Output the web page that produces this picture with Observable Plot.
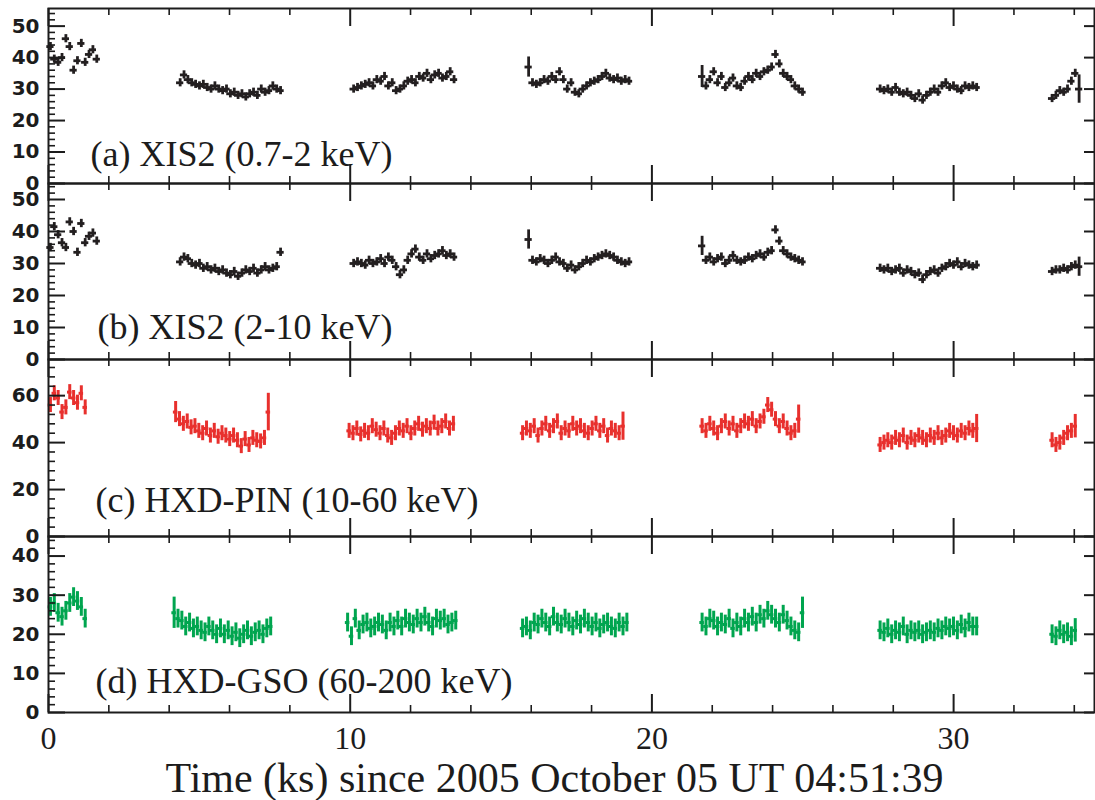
<!DOCTYPE html>
<html>
<head>
<meta charset="utf-8">
<script src="https://cdn.jsdelivr.net/npm/d3@7"></script>
<script src="https://cdn.jsdelivr.net/npm/@observablehq/plot@0.6"></script>
<style>
  html, body { margin: 0; padding: 0; background: #fff; }
  #chart { width: 1095px; }
  #chart svg { display: block; overflow: visible; background: transparent; }
</style>
</head>
<body>
<div id="chart"></div>
<script>
// Light curves binned at 128 s; each segment is one continuous stretch of data between orbital gaps.
const BIN = 0.128; // ks

// (a) XIS2 0.7-2 keV (counts/s)
const xisSoftStarts = [0.0, 4.3, 10.05, 15.85, 21.6, 27.5, 33.2];
const xisSoft = [
  [43.5, 39.5, 38.5, 40, 46, 43.5, 36, 39, 44.5, 38.5, 41, 42.5, 39.5],
  [32, 34.5, 33, 32, 31.5, 31, 31.5, 30.5, 30, 31, 30, 29.5, 30, 28.5, 29, 28, 28.5, 27.5, 28.5, 29, 28, 30, 29, 29.5, 31, 30, 29.5],
  [30, 30.5, 31, 31.5, 32, 31, 33, 32.5, 34, 31, 32, 29.5, 30, 31, 32.5, 33, 32, 34, 33.5, 35, 33, 34.5, 35, 33.5, 34, 35.5, 33],
  [37, 32, 31.5, 32, 33, 32.5, 34, 33, 35.5, 33, 30, 32, 29, 28.5, 30, 31, 32, 32.5, 33, 34, 35, 33.5, 33, 33.5, 32.5, 33, 32.5],
  [34, 31, 33, 35.5, 32, 34, 30.5, 32, 33.5, 31, 30.5, 32.5, 34, 33, 35, 34, 35.5, 36, 37, 41, 38, 35, 34, 33, 31, 30, 29],
  [30, 29.5, 30, 29, 30.5, 29, 28.5, 29, 28, 27, 28.5, 26.5, 28, 29, 30, 29, 31, 32, 30.5, 31, 30, 29.5, 31, 30.5, 31, 30.5],
  [27, 28, 29.5, 29, 30, 32.5, 35, 30]
];

// (b) XIS2 2-10 keV (counts/s)
const xisHardStarts = [0.0, 4.3, 10.05, 15.85, 21.6, 27.5, 33.2];
const xisHard = [
  [35, 41.5, 39, 36.5, 35, 43, 40, 33.5, 42.5, 36.5, 38.5, 39.5, 37],
  [30.5, 32, 31.5, 30, 29.5, 30, 28.5, 29, 28, 28.5, 27.5, 28, 27, 26.5, 27.5, 26, 27, 28, 27.5, 28.5, 27, 28, 29, 28, 28.5, 29, 33.5],
  [30, 30.5, 30, 29.5, 31, 30, 30.5, 31.5, 30, 32, 31, 29, 26.5, 28, 31, 33, 34.5, 32, 31, 33, 31.5, 32.5, 33, 34, 32.5, 33, 32],
  [37.5, 31, 30.5, 31.5, 31, 30, 31, 32, 30.5, 30, 28.5, 29.5, 28, 29, 30, 31, 30.5, 31.5, 32, 32.5, 33, 32.5, 32, 31, 30.5, 30, 30.5],
  [35.5, 31, 32, 30.5, 31.5, 32, 30, 31, 32.5, 31, 30.5, 31, 32, 31.5, 32.5, 33, 32, 33.5, 34, 40.5, 37, 34, 33, 32, 31.5, 31, 30.5],
  [28.5, 28, 28.5, 27.5, 28, 28.5, 27, 28, 27.5, 26.5, 27, 25, 26.5, 27.5, 28, 27, 28.5, 29, 30, 29.5, 30.5, 29, 30, 29.5, 29, 29.5],
  [27.5, 28, 28, 28.5, 28, 29, 29.5, 29]
];

// (c) HXD-PIN 10-60 keV (counts/s)
const pinStarts = [0.0, 4.15, 9.9, 15.65, 21.6, 27.5, 33.2];
const pin = [
  [56, 61, 59, 53, 55, 61.5, 59, 57, 61, 55],
  [53, 50, 48, 49, 46.5, 47, 45, 44, 46, 43, 45, 42.5, 44, 43, 41.5, 43, 41, 38.5, 41.5, 39, 42, 41, 40.5, 42, 53],
  [45, 44, 46, 43.5, 45, 44, 47, 45.5, 44, 46, 43, 42, 44, 46, 45, 47, 44, 46, 48, 45.5, 47, 46, 48.5, 46, 47, 49, 46, 48],
  [44, 46, 45, 47, 43, 46, 48, 45, 47, 49, 44, 46, 45, 48, 46, 47, 45, 44, 46, 48, 45, 47, 43, 46, 45, 44, 47],
  [47, 45, 48, 46, 44, 47, 49, 46, 48, 45, 47, 49, 48, 50, 47, 49, 51, 56, 54, 50, 47, 49, 46, 44, 45, 50],
  [39, 40, 41, 40, 42, 41, 43, 40, 42, 41, 43, 42, 41, 43, 42, 44, 42, 43, 45, 44, 43, 45, 44, 46, 45, 46],
  [41, 39, 40, 42, 44, 45, 47]
];

// (d) HXD-GSO 60-200 keV (counts/s)
const gsoStarts = [0.0, 4.1, 9.85, 15.65, 21.6, 27.5, 33.2];
const gso = [
  [27, 28, 25.5, 24.5, 26, 28, 29.5, 28.5, 27, 24],
  [25.5, 24, 23.5, 22, 23, 21.5, 22, 21, 20.5, 22, 21, 20, 21.5, 20, 21, 19.5, 20.5, 19, 20, 21, 19.5, 20.5, 21, 20, 21.5, 22],
  [23, 19.5, 24, 21, 22.5, 23, 21.5, 22, 23, 22.5, 21, 23, 22, 23.5, 22, 24, 23, 22.5, 24, 23, 24.5, 23, 22, 24, 23.5, 24, 22.5, 23, 23.5],
  [21.5, 22, 21, 23, 22.5, 24, 23, 22, 24.5, 23, 22.5, 24, 23, 22, 23.5, 22.5, 24, 23, 22, 23, 21.5, 22.5, 23, 22, 21.5, 23, 22, 23],
  [23, 22, 24, 23.5, 22, 23, 22.5, 24, 21.5, 23, 22, 24, 23, 24.5, 23, 25, 24, 26, 25, 24, 23, 25, 23.5, 22, 21, 20.5, 25.5],
  [21, 20.5, 21.5, 20, 21, 20.5, 22, 20, 21, 20.5, 21, 20, 20.5, 21, 20.5, 21.5, 21, 22, 21.5, 22, 21, 22.5, 21.5, 23, 22, 22],
  [20, 19.5, 21, 20, 20.5, 19.5, 21]
];

// Typical 1-sigma errors per instrument, and the partial-exposure bins at segment edges
// that carry larger errors: [segment, bin (-1 = last), error].
const typicalErrors = [1.3, 1.3, 3.2, 2.4];
const edgeErrors = [
  [[3, 0, 3.2], [4, 0, 3.5], [6, -1, 4.5]],
  [[3, 0, 3.0], [4, 0, 3.0], [6, -1, 3.0]],
  [[1, 0, 4.5], [1, -1, 8.0], [3, -1, 6.0], [4, -1, 6.0], [5, -1, 6.0], [6, -1, 5.0]],
  [[1, 0, 4.0], [4, -1, 4.0], [6, -1, 3.0]]
];

const panelLabels = [
  "(a) XIS2 (0.7-2 keV)",
  "(b) XIS2 (2-10 keV)",
  "(c) HXD-PIN (10-60 keV)",
  "(d) HXD-GSO (60-200 keV)"
];
const xLabel = "Time (ks) since 2005 October 05 UT 04:51:39";
const xMajorTicks = [0, 10, 20, 30];

// ---- layout ----
const W = 1095, ML = 48, MR = 1;
const X_DOMAIN = [0, 34.67];
const xMinorTicks = d3.range(0, 35, 2).filter(t => t % 10 !== 0);
const serif = "'Liberation Serif', 'Times New Roman', serif";
const sans = "'DejaVu Sans', sans-serif";
const ink = "#1c1c1c";

const panels = [
  {starts: xisSoftStarts, values: xisSoft, color: "#231f20", hw: 0.12, sw: 2.8, ymax: 55.6,
   major: d3.range(0, 51, 10), minor: d3.range(0, 56, 2), height: 183, mt: 8, mb: 0, lab: [42, -18]},
  {starts: xisHardStarts, values: xisHard, color: "#231f20", hw: 0.12, sw: 2.8, ymax: 55,
   major: d3.range(0, 51, 10), minor: d3.range(0, 56, 2), height: 176, mt: 0, mb: 0, lab: [49, -21]},
  {starts: pinStarts, values: pin, color: "#e8302d", hw: 0.075, sw: 3, ymax: 75.4,
   major: d3.range(0, 61, 20), minor: d3.range(0, 76, 4), height: 177, mt: 0, mb: 0, lab: [47, -25]},
  {starts: gsoStarts, values: gso, color: "#00a54f", hw: 0.075, sw: 3, ymax: 45,
   major: d3.range(0, 41, 10), minor: d3.range(0, 46, 2), height: 264, mt: 0, mb: 88, lab: [47, -20]}
];

const chart = document.getElementById("chart");

panels.forEach((p, k) => {
  const rows = [];
  p.starts.forEach((t0, s) => {
    const vals = p.values[s];
    vals.forEach((v, i) => {
      const hit = edgeErrors[k].find(([seg, idx]) => seg === s && (idx === i || (idx === -1 && i === vals.length - 1)));
      rows.push({t: t0 + (i + 0.5) * BIN, v, e: hit ? hit[2] : typicalErrors[k]});
    });
  });

  const innerW = W - ML - MR;
  const innerH = p.height - p.mt - p.mb;
  const minor = p.minor.filter(v => !p.major.includes(v));

  const marks = [
    // data: horizontal bin bars and vertical error bars
    Plot.ruleY(rows, {y: "v", x1: d => d.t - p.hw, x2: d => d.t + p.hw, stroke: p.color, strokeWidth: p.sw}),
    Plot.ruleX(rows, {x: "t", y1: d => d.v - d.e, y2: d => d.v + d.e, stroke: p.color, strokeWidth: p.sw}),
    // inward ticks on all four sides
    Plot.ruleY(p.major, {y: d => d, insetRight: innerW - 17, stroke: ink, strokeWidth: 2}),
    Plot.ruleY(minor, {y: d => d, insetRight: innerW - 7, stroke: ink, strokeWidth: 1.6}),
    Plot.ruleY(p.major, {y: d => d, insetLeft: innerW - 10, stroke: ink, strokeWidth: 2}),
    Plot.ruleX(xMajorTicks, {x: d => d, insetBottom: innerH - 18, stroke: ink, strokeWidth: 2}),
    Plot.ruleX(xMajorTicks, {x: d => d, insetTop: innerH - 18, stroke: ink, strokeWidth: 2}),
    Plot.ruleX(xMinorTicks, {x: d => d, insetBottom: innerH - 7, stroke: ink, strokeWidth: 1.6}),
    Plot.ruleX(xMinorTicks, {x: d => d, insetTop: innerH - 7, stroke: ink, strokeWidth: 1.6}),
    Plot.frame({stroke: ink, strokeWidth: 2}),
    // y tick labels
    Plot.text(p.major, {y: d => d, frameAnchor: "left", dx: -9, textAnchor: "end",
      fontSize: 20, fontFamily: sans, fontWeight: "bold", fill: ink}),
    // panel label
    Plot.text([panelLabels[k]], {frameAnchor: "bottom-left", dx: p.lab[0], dy: p.lab[1],
      textAnchor: "start", lineAnchor: "bottom", fontSize: 36, fontFamily: serif, fill: ink})
  ];

  if (k === panels.length - 1) {
    marks.push(
      Plot.text(xMajorTicks, {x: d => d, frameAnchor: "bottom", dy: 36, lineAnchor: "bottom",
        fontSize: 32, fontFamily: serif, fill: ink}),
      Plot.text([xLabel], {frameAnchor: "bottom", dx: -17, dy: 79, lineAnchor: "bottom",
        fontSize: 42, fontFamily: serif, fill: ink})
    );
  }

  const svg = Plot.plot({
    width: W, height: p.height,
    marginLeft: ML, marginRight: MR, marginTop: p.mt, marginBottom: p.mb,
    x: {domain: X_DOMAIN, axis: null},
    y: {domain: [0, p.ymax], axis: null},
    style: {background: "transparent", overflow: "visible"},
    marks
  });
  chart.appendChild(svg);
});
</script>
</body>
</html>
